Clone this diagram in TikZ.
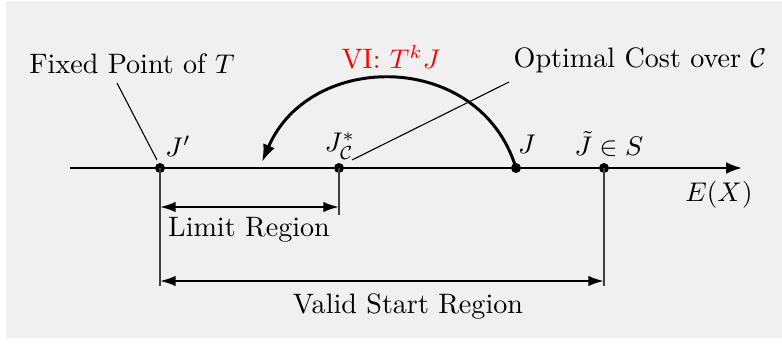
\documentclass[tikz,border=0pt]{standalone}
\usetikzlibrary{arrows.meta,positioning,calc}

\begin{document}
\begin{tikzpicture}[
  x=0.37pt, y=-0.37pt,
  font=\fontsize{10.4}{12.5}\selectfont,
  dot/.style={circle, fill=black, inner sep=0pt, minimum size=3.7pt},
  lbl/.style={inner sep=0.5pt},
  axis/.style={line width=0.85pt, -{Latex[length=5.9pt,width=4.4pt]}},
  leader/.style={line width=0.4pt},
  ext/.style={line width=0.4pt, draw=black!75},
  dim/.style={line width=0.8pt, {Latex[length=5.8pt,width=3.9pt]}-{Latex[length=5.8pt,width=3.9pt]}},
  vi/.style={line width=1.1pt, -{Latex[length=6.5pt,width=4.6pt]}}
]

\useasboundingbox (0,0) rectangle (782,349);
\fill[black!6] (6,1) rectangle (782,338);

% axis and points
\coordinate (start) at (70,168);
\coordinate (tip) at (742,168);
\draw[axis] (start) -- (tip);
\node[dot] (Jp) at (160,168) {};
\node[dot] (Jc) at (339,168) {};
\node[dot] (J) at (516,168) {};
\node[dot] (Jt) at (604,168) {};

\node[lbl] (Jplbl) at (178,146) {$J'$};
\node[lbl] (Jclbl) at (340,146) {$J^*_{\mathcal{C}}$};
\node[lbl] (Jlbl) at (527,144) {$J$};
\node[lbl] (Jtlbl) at (609,144) {$\tilde{J}\in S$};
\node[lbl] (EX) at (719,195) {$E(X)$};

% annotations
\node[lbl] (fixed) at (132,64) {Fixed Point of $T$};
\node[lbl] (optimal) at (640,60) {Optimal Cost over $\mathcal{C}$};
\node[lbl, text=red] (vilbl) at (391,57) {VI: $T^kJ$};
\coordinate (fixedend) at (157,160);
\coordinate (optend) at (352,160);
\draw[leader] (117,83) -- (fixedend);
\draw[leader] (509,82) -- (optend);

% value iteration arc
\coordinate (viend) at (262,162);
\draw[vi] (J.center) .. controls (480,50) and (310,50) .. (viend);

% regions
\coordinate (lr) at (0,207);
\coordinate (vsr) at (0,281);
\draw[ext] (Jp.center) -- ($(Jp |- vsr)+(0,5)$);
\draw[ext] (Jc.center) -- ($(Jc |- lr)+(0,8)$);
\draw[ext] (Jt.center) -- ($(Jt |- vsr)+(0,5)$);
\draw[dim] (Jp |- lr) -- (Jc |- lr);
\draw[dim] (Jp |- vsr) -- (Jt |- vsr);
\node[lbl] (limit) at (249,230) {Limit Region};
\node[lbl] (valid) at (408,306) {Valid Start Region};

\end{tikzpicture}
\end{document}
